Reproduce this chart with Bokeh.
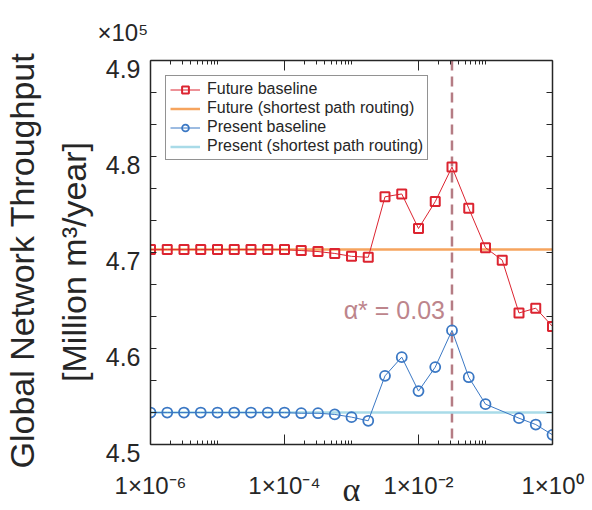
from bokeh.plotting import figure
from bokeh.models import (Range1d, FixedTicker, LinearAxis, LogAxis, Span, Label,
                          Legend, LegendItem, CustomJSTickFormatter)
from bokeh.embed import file_html
from bokeh.resources import INLINE

# ---------------- data ----------------
alpha = [1e-6, 1.778e-6, 3.162e-6, 5.623e-6,
         1e-5, 1.778e-5, 3.162e-5, 5.623e-5,
         1e-4, 1.778e-4, 3.162e-4, 5.623e-4,
         1e-3, 1.778e-3, 3.162e-3, 5.623e-3,
         1e-2, 1.778e-2, 3.162e-2, 5.623e-2,
         1e-1, 1.778e-1, 3.162e-1, 5.623e-1, 1.0]
future_baseline = [4.703, 4.703, 4.703, 4.703, 4.703, 4.703, 4.703, 4.703,
                   4.703, 4.702, 4.701, 4.699, 4.696, 4.695, 4.758, 4.761,
                   4.725, 4.753, 4.789, 4.746, 4.705, 4.692, 4.637, 4.642, 4.623]
alpha_present = [1e-6, 1.778e-6, 3.162e-6, 5.623e-6,
                 1e-5, 1.778e-5, 3.162e-5, 5.623e-5,
                 1e-4, 1.778e-4, 3.162e-4, 5.623e-4,
                 1e-3, 1.778e-3, 3.162e-3, 5.623e-3,
                 1e-2, 1.778e-2, 3.162e-2, 5.623e-2,
                 1e-1, 3.162e-1, 5.623e-1, 1.0]
present_baseline = [4.5333, 4.5333, 4.5333, 4.5333, 4.5333, 4.5333, 4.5333, 4.5333,
                    4.5333, 4.5326, 4.5326, 4.5313, 4.5285, 4.5247, 4.5715, 4.5910,
                    4.5556, 4.5806, 4.6188, 4.5701, 4.5420, 4.5274, 4.5208, 4.5101]
future_sp = 4.703
present_sp = 4.5333
alpha_star = 0.0316
alpha_star_text = "α* = 0.03"

x_ticks = [1e-6, 1e-4, 1e-2, 1.0]
x_tick_labels = ["1×10⁻⁶", "1×10⁻⁴", "1×10⁻²", "1×10⁰"]
x_minor = [m * d for d in (1e-6, 1e-4, 1e-2) for m in range(2, 11)]
y_ticks = [4.5, 4.6, 4.7, 4.8, 4.9]
y_tick_labels = ["4.5", "4.6", "4.7", "4.8", "4.9"]
y_minor = [4.5333, 4.5667, 4.6333, 4.6667, 4.7333, 4.7667, 4.8333, 4.8667]
y_multiplier = "×10⁵"
y_label_lines = ["Global Network Throughput", "[Million m³/year]"]
legend_labels = ["Future baseline", "Future (shortest path routing)",
                 "Present baseline", "Present (shortest path routing)"]

# ---------------- style ----------------
RED = "#dc2430"
BLUE = "#3b78c4"
ORANGE = "#f6a45e"
LIGHTBLUE = "#a9dbe8"
DASH = "#b57c84"
INK = "#262626"
FONT = "Liberation Sans"

p = figure(frame_width=402, frame_height=384, x_axis_type="log",
           x_range=Range1d(1e-6, 1.0), y_range=Range1d(4.5, 4.9),
           output_backend="svg", toolbar_location=None,
           min_border_left=145, min_border_right=37,
           min_border_top=60, min_border_bottom=66)
p.grid.visible = False
p.outline_line_color = None
p.background_fill_color = "white"
p.border_fill_color = "white"

p.title.text = y_multiplier
p.title.align = "left"
p.title.offset = -53
p.title.standoff = 30
p.title.text_font = FONT
p.title.text_font_style = "normal"
p.title.text_font_size = "24px"
p.title.text_color = INK

lookup_code = """
const i = tick_values.indexOf(tick);
return i >= 0 ? tick_labels[i] : '';
"""
p.xaxis.ticker = FixedTicker(ticks=x_ticks, minor_ticks=x_minor)
p.yaxis.ticker = FixedTicker(ticks=y_ticks, minor_ticks=y_minor)

top_axis = LogAxis(ticker=FixedTicker(ticks=x_ticks, minor_ticks=x_minor))
right_axis = LinearAxis(ticker=FixedTicker(ticks=y_ticks, minor_ticks=y_minor))
p.add_layout(top_axis, "above")
p.add_layout(right_axis, "right")

for ax in p.xaxis:
    ax.major_tick_in = 10
    ax.major_tick_out = 0
    ax.minor_tick_in = 4
    ax.minor_tick_out = 0
for ax in p.yaxis:
    ax.major_tick_in = 6
    ax.major_tick_out = 0
    ax.minor_tick_in = 6
    ax.minor_tick_out = 0
for ax in list(p.xaxis) + list(p.yaxis):
    ax.axis_line_color = INK
    ax.axis_line_width = 1.5
    ax.major_tick_line_color = INK
    ax.minor_tick_line_color = INK
    ax.major_tick_line_width = 1
    ax.minor_tick_line_width = 1
    ax.major_label_text_font = FONT
    ax.major_label_text_color = INK

for ax in (top_axis, right_axis):
    ax.major_label_text_font_size = "1px"
    ax.major_label_text_alpha = 0
    ax.major_label_standoff = 0

bottom = p.below[0]
bottom.formatter = CustomJSTickFormatter(
    args=dict(tick_values=x_ticks, tick_labels=x_tick_labels), code=lookup_code)
bottom.major_label_text_font_size = "24px"
bottom.major_label_standoff = 27
bottom.axis_label = "α"
bottom.axis_label_text_font = "Liberation Serif"
bottom.axis_label_text_font_style = "normal"
bottom.axis_label_text_font_size = "34px"
bottom.axis_label_text_color = INK
bottom.axis_label_standoff = -31

left = p.left[0]
left.formatter = CustomJSTickFormatter(
    args=dict(tick_values=y_ticks, tick_labels=["\n" + t for t in y_tick_labels]),
    code=lookup_code)
left.major_label_text_font_size = "25px"
left.major_label_text_line_height = 0.6
left.major_label_standoff = 10
left.axis_label = y_label_lines[0] + " \u2009\n" + y_label_lines[1] + "  "
left.axis_label_text_font = FONT
left.axis_label_text_font_style = "normal"
left.axis_label_text_font_size = "34px"
left.axis_label_text_color = INK
left.axis_label_text_line_height = 1.35
left.axis_label_standoff = 10

# ---------------- glyphs ----------------
vline = Span(location=alpha_star, dimension="height", line_color=DASH,
             line_width=2.5, line_dash="10 6", level="underlay")
p.add_layout(vline)

r_fsp = p.line(x=[x_ticks[0], x_ticks[-1]], y=[future_sp, future_sp],
               line_color=ORANGE, line_width=2.5)
r_psp = p.line(x=[x_ticks[0], x_ticks[-1]], y=[present_sp, present_sp],
               line_color=LIGHTBLUE, line_width=2.5)
r_fl = p.line(alpha, future_baseline, line_color=RED, line_width=1)
r_fs = p.scatter(alpha, future_baseline, marker="square", size=9,
                 fill_color=None, line_color=RED, line_width=2)
r_pl = p.line(alpha_present, present_baseline, line_color=BLUE, line_width=1)
r_ps = p.scatter(alpha_present, present_baseline, marker="circle", size=10,
                 fill_color=None, line_color=BLUE, line_width=1.8)

legend = Legend(items=[
    LegendItem(label=legend_labels[0], renderers=[r_fl, r_fs]),
    LegendItem(label=legend_labels[1], renderers=[r_fsp]),
    LegendItem(label=legend_labels[2], renderers=[r_pl, r_ps]),
    LegendItem(label=legend_labels[3], renderers=[r_psp]),
], location="top_left")
legend.margin = 15
legend.padding = 4
legend.spacing = 1
legend.label_height = 17
legend.glyph_height = 17
legend.glyph_width = 30
legend.label_standoff = 7
legend.label_text_font = FONT
legend.label_text_font_size = "16px"
legend.label_text_color = INK
legend.border_line_color = INK
legend.border_line_width = 1.5
legend.background_fill_color = "white"
legend.background_fill_alpha = 1
p.add_layout(legend)

# alpha* annotation
p.add_layout(Label(x=alpha_star, y=4.64, text=alpha_star_text, x_offset=-7,
                   text_align="right", text_baseline="alphabetic",
                   text_font=FONT, text_font_size="25px", text_color="#bd858c"))

open("out.html", "w").write(file_html(p, INLINE))
